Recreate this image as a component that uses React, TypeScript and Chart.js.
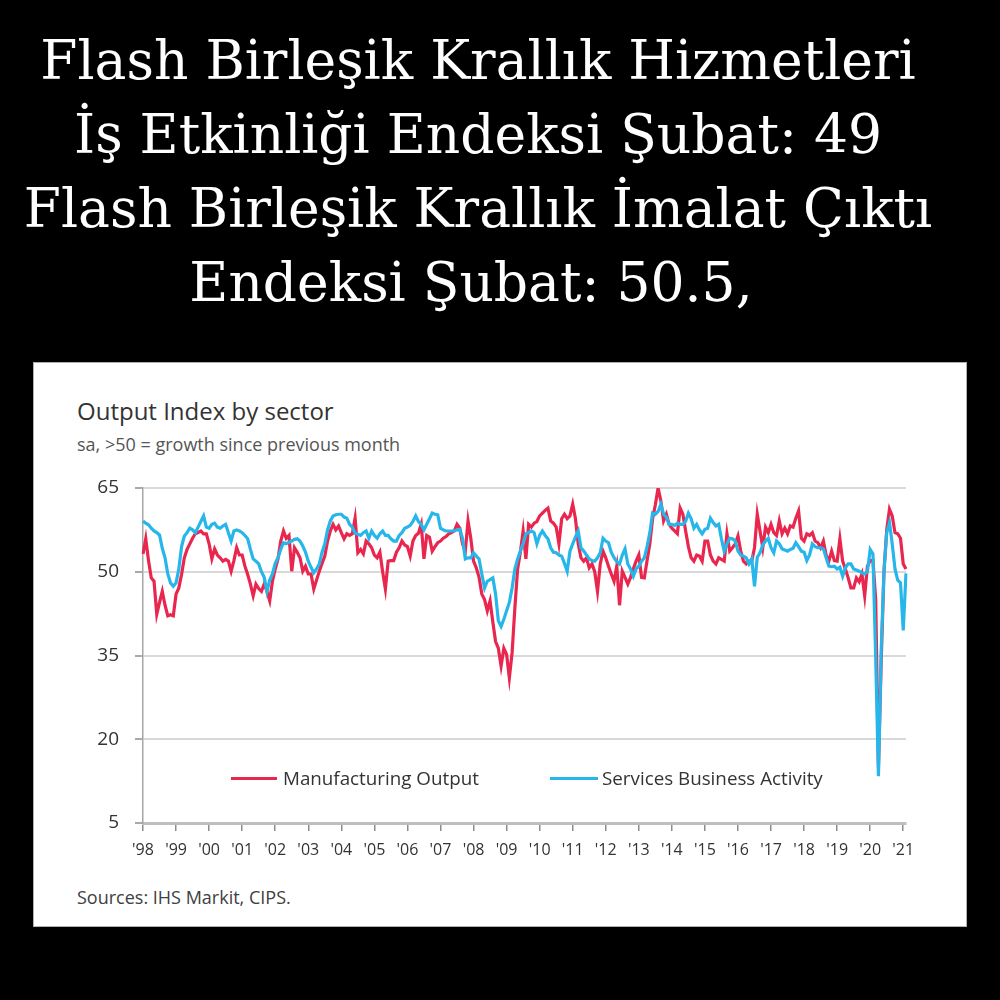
import React, { useEffect, useRef } from "react";
import { Chart, registerables } from "chart.js";

Chart.register(...registerables);

// ---- data ----
const yearLabels = [
  "'98", "'99", "'00", "'01", "'02", "'03", "'04", "'05", "'06", "'07", "'08", "'09",
  "'10", "'11", "'12", "'13", "'14", "'15", "'16", "'17", "'18", "'19", "'20", "'21",
];
const monthsPerYear = 12;
const yTicks = [5, 20, 35, 50, 65];
const seriesNames = ["Manufacturing Output", "Services Business Activity"];

// monthly, Jan 1998 - Feb 2021
const manufacturingOutput = [
  53.2, 55.9, 52.0, 48.9, 48.3, 42.4, 44.5, 46.5, 44.0, 42.1, 42.3, 42.1, // 1998
  46.0, 47.1, 49.5, 52.5, 54.0, 55.0, 56.0, 56.8, 57.0, 57.3, 56.8, 56.8, // 1999
  55.0, 52.3, 54.1, 53.0, 52.5, 51.9, 52.2, 51.9, 50.1, 52.0, 54.3, 53.0, // 2000
  53.0, 51.0, 49.5, 47.8, 45.7, 47.8, 47.0, 46.5, 47.8, 46.5, 44.8, 48.3, // 2001
  50.5, 52.3, 55.5, 57.3, 56.0, 56.5, 50.1, 54.3, 53.5, 52.5, 50.1, 51.0, // 2002
  49.6, 49.6, 46.9, 48.5, 50.1, 51.5, 52.8, 55.5, 57.3, 58.5, 57.5, 58.2, // 2003
  57.0, 55.9, 56.8, 56.5, 56.8, 59.6, 53.4, 54.0, 53.2, 55.5, 55.0, 54.3, // 2004
  53.0, 52.5, 53.5, 50.0, 46.9, 51.9, 52.0, 52.0, 53.5, 54.3, 55.5, 54.8, // 2005
  54.5, 52.8, 55.5, 56.5, 56.9, 58.5, 52.3, 56.5, 56.2, 53.7, 54.5, 55.2, // 2006
  55.5, 56.0, 56.3, 56.8, 57.0, 57.3, 58.5, 57.8, 55.0, 53.7, 59.1, 56.0, // 2007
  51.9, 50.7, 49.0, 46.0, 45.0, 43.0, 44.8, 41.0, 37.5, 36.3, 33.1, 36.3, // 2008
  35.2, 31.0, 35.5, 43.5, 50.5, 53.5, 57.3, 52.3, 58.5, 58.0, 58.7, 59.0, // 2009
  60.0, 60.5, 61.0, 61.4, 59.1, 58.7, 58.0, 55.0, 59.5, 60.3, 59.5, 60.0, // 2010
  62.1, 59.5, 55.0, 52.5, 51.9, 52.5, 50.7, 51.4, 50.0, 46.5, 51.4, 53.7, // 2011
  52.5, 51.0, 49.6, 48.3, 51.0, 44.0, 50.1, 49.0, 47.8, 49.0, 50.5, 51.9, // 2012
  53.0, 49.0, 48.9, 52.0, 55.0, 59.5, 62.0, 65.0, 62.7, 59.1, 60.3, 58.5, // 2013
  57.8, 57.3, 56.8, 61.4, 60.3, 57.3, 54.5, 52.5, 51.9, 53.0, 52.8, 51.9, // 2014
  55.5, 55.5, 53.0, 51.9, 51.4, 52.5, 52.2, 51.9, 56.8, 53.7, 54.3, 55.0, // 2015
  56.4, 53.7, 51.9, 51.4, 51.9, 51.9, 54.3, 60.3, 57.3, 54.3, 58.0, 57.0, // 2016
  58.5, 57.0, 56.5, 59.1, 56.8, 57.8, 56.8, 58.2, 58.0, 59.6, 60.9, 56.0, // 2017
  55.5, 56.8, 56.5, 57.0, 55.5, 55.2, 54.3, 55.5, 53.0, 51.9, 53.7, 52.0, // 2018
  51.9, 55.9, 51.9, 50.5, 48.9, 47.1, 47.1, 48.9, 48.2, 49.6, 45.7, 51.0, // 2019
  52.0, 52.0, 45.0, 15.0, 34.0, 50.0, 57.5, 61.2, 60.0, 57.0, 56.8, 56.0, // 2020
  51.4, 50.5, // 2021
];

const servicesActivity = [
  59.1, 58.7, 58.4, 57.8, 57.3, 57.0, 56.6, 54.2, 52.5, 49.6, 48.0, 47.4, // 1998
  48.0, 50.5, 54.5, 56.4, 57.0, 57.8, 57.5, 57.0, 58.0, 59.0, 60.0, 58.0, // 1999
  57.8, 58.5, 58.7, 58.0, 57.8, 58.2, 58.5, 57.0, 55.5, 57.3, 57.5, 57.3, // 2000
  57.0, 56.5, 55.9, 54.0, 52.3, 51.9, 51.4, 50.0, 49.0, 46.5, 48.5, 49.6, // 2001
  51.5, 52.5, 54.0, 55.2, 55.0, 55.3, 55.5, 55.8, 55.9, 55.5, 54.6, 53.5, // 2002
  51.9, 50.8, 49.8, 50.5, 51.4, 53.5, 55.0, 57.5, 59.1, 60.0, 60.2, 60.3, // 2003
  60.3, 59.8, 59.6, 58.5, 58.0, 56.9, 56.7, 56.5, 57.0, 57.3, 56.0, 57.3, // 2004
  56.5, 56.0, 56.8, 57.3, 56.5, 56.5, 55.9, 55.5, 55.5, 56.5, 57.0, 57.8, // 2005
  58.0, 58.3, 59.0, 60.0, 59.0, 58.5, 57.5, 58.5, 59.5, 60.5, 60.3, 60.2, // 2006
  57.8, 57.5, 57.3, 57.3, 57.3, 57.3, 57.5, 57.6, 56.0, 52.3, 52.5, 52.5, // 2007
  53.4, 52.8, 52.3, 49.6, 47.1, 48.3, 48.6, 48.9, 46.0, 41.2, 40.2, 41.5, // 2008
  43.0, 44.5, 47.1, 50.5, 52.3, 53.7, 55.0, 56.8, 57.0, 57.3, 57.0, 55.0, // 2009
  56.5, 57.3, 56.5, 55.9, 54.3, 53.5, 53.4, 53.0, 52.8, 51.5, 50.1, 53.7, // 2010
  55.0, 56.2, 57.3, 54.3, 53.7, 53.0, 52.3, 52.0, 51.9, 52.5, 53.4, 56.0, // 2011
  55.5, 55.2, 53.5, 52.5, 51.8, 51.4, 53.0, 54.1, 51.4, 50.5, 49.2, 50.5, // 2012
  51.0, 51.9, 52.5, 54.5, 57.0, 60.5, 60.3, 60.8, 62.1, 60.3, 59.8, 58.5, // 2013
  58.5, 58.3, 58.7, 58.5, 58.5, 59.0, 60.5, 59.5, 57.8, 58.5, 57.5, 56.8, // 2014
  57.6, 57.8, 59.6, 58.8, 58.2, 58.5, 55.9, 53.7, 55.0, 56.0, 55.9, 55.5, // 2015
  53.7, 53.0, 52.8, 52.5, 51.4, 52.3, 47.4, 52.6, 53.4, 54.8, 55.5, 56.0, // 2016
  54.3, 53.4, 55.5, 55.0, 54.1, 53.9, 53.7, 54.0, 54.2, 55.2, 54.5, 53.7, // 2017
  53.5, 52.0, 53.0, 55.0, 54.5, 54.3, 54.3, 54.1, 52.5, 51.0, 50.9, 51.0, // 2018
  50.5, 50.8, 49.2, 50.7, 51.4, 51.4, 50.5, 50.3, 50.1, 49.8, 49.6, 50.0, // 2019
  54.0, 53.2, 34.5, 13.4, 36.0, 50.0, 57.0, 58.8, 55.0, 50.5, 48.5, 48.0, // 2020
  39.5, 49.7, // 2021
];

const monthLabels: string[] = yearLabels
  .flatMap((y) => Array.from({ length: monthsPerYear }, (_, m) => `${y}-${m + 1}`))
  .slice(0, servicesActivity.length);

const RED = "#E8264E";
const BLUE = "#27B6EA";
const SANS = "'Open Sans', Lato, sans-serif";

export default function App() {
  const canvasRef = useRef<HTMLCanvasElement | null>(null);

  useEffect(() => {
    const canvas = canvasRef.current;
    if (!canvas) return;
    const chart = new Chart(canvas, {
      type: "line",
      data: {
        labels: monthLabels,
        datasets: [
          {
            label: seriesNames[0],
            data: manufacturingOutput,
            borderColor: RED,
            backgroundColor: RED,
            borderWidth: 3.2,
            pointRadius: 0,
            tension: 0,
            order: 1,
          },
          {
            label: seriesNames[1],
            data: servicesActivity,
            borderColor: BLUE,
            backgroundColor: BLUE,
            borderWidth: 3.2,
            pointRadius: 0,
            tension: 0,
            order: 0,
          },
        ],
      },
      options: {
        animation: false,
        responsive: false,
        devicePixelRatio: 1,
        layout: { padding: { top: 17, right: 25, left: 0, bottom: 0 } },
        plugins: { legend: { display: false }, tooltip: { enabled: false } },
        scales: {
          x: {
            type: "category",
            offset: false,
            afterFit: (scale: any) => {
              scale.height = 48;
              scale.paddingLeft = 0;
              scale.paddingRight = 0;
            },
            grid: {
              drawOnChartArea: false,
              drawTicks: true,
              tickLength: 8,
              color: "#8c8c8c",
              lineWidth: 1.5,
            },
            border: { color: "#bfbfbf", width: 3 },
            ticks: {
              autoSkip: false,
              maxRotation: 0,
              minRotation: 0,
              padding: 10,
              color: "#333333",
              font: { family: SANS, size: 16 },
              callback: (_v: any, i: number) =>
                i % monthsPerYear === 0 ? yearLabels[i / monthsPerYear] : null,
            },
          },
          y: {
            min: yTicks[0],
            max: yTicks[yTicks.length - 1],
            afterFit: (scale: any) => {
              scale.width = 62;
              scale.paddingTop = 0;
              scale.paddingBottom = 0;
            },
            afterBuildTicks: (scale: any) => {
              scale.ticks = yTicks.map((v) => ({ value: v }));
            },
            grid: {
              color: "#d9d9d9",
              lineWidth: 2,
              tickColor: "#8c8c8c",
              tickLength: 8,
              tickWidth: 1.5,
            },
            border: { color: "#a6a6a6", width: 1.5 },
            ticks: {
              padding: 16,
              color: "#333333",
              font: { family: SANS, size: 19 },
            },
          },
        },
      },
    });
    return () => chart.destroy();
  }, []);

  const legendItem = (left: number, lineW: number, gap: number, color: string, text: string) => (
    <div
      style={{
        position: "absolute",
        left,
        top: 403,
        height: 24,
        display: "flex",
        alignItems: "center",
        font: `18.8px ${SANS}`,
        color: "#333333",
        whiteSpace: "nowrap",
      }}
    >
      <span
        style={{
          display: "inline-block",
          width: lineW,
          height: 3,
          background: color,
          marginRight: gap,
        }}
      />
      {text}
    </div>
  );

  return (
    <div
      style={{
        position: "absolute",
        left: 0,
        top: 0,
        width: 1000,
        height: 1000,
        background: "#000000",
        overflow: "hidden",
      }}
    >
      <div
        style={{
          position: "absolute",
          left: 0,
          top: 24,
          width: 956,
          textAlign: "center",
          color: "#ffffff",
          fontFamily: "'DejaVu Serif', serif",
          fontSize: 53.5,
          lineHeight: "74px",
          whiteSpace: "nowrap",
        }}
      >
        <div>Flash Birleşik Krallık Hizmetleri</div>
        <div>İş Etkinliği Endeksi Şubat: 49</div>
        <div>Flash Birleşik Krallık İmalat Çıktı</div>
        <div style={{ paddingRight: 14 }}>Endeksi Şubat: 50.5,</div>
      </div>

      <div
        style={{
          position: "absolute",
          left: 33,
          top: 362,
          width: 934,
          height: 565,
          background: "#ffffff",
          boxSizing: "border-box",
          border: "1px solid #b0b0b0",
        }}
      >
        <div
          style={{
            position: "absolute",
            left: 43,
            top: 34,
            font: `24px ${SANS}`,
            lineHeight: "28px",
            color: "#333333",
            whiteSpace: "nowrap",
          }}
        >
          Output Index by sector
        </div>
        <div
          style={{
            position: "absolute",
            left: 43,
            top: 70,
            font: `18px ${SANS}`,
            lineHeight: "22px",
            color: "#555555",
            whiteSpace: "nowrap",
          }}
        >
          sa, &gt;50 = growth since previous month
        </div>
        <canvas
          ref={canvasRef}
          width={850}
          height={400}
          style={{ position: "absolute", left: 47, top: 108, width: 850, height: 400 }}
        />
        {legendItem(197, 46, 6, RED, seriesNames[0])}
        {legendItem(516, 48, 4, BLUE, seriesNames[1])}
        <div
          style={{
            position: "absolute",
            left: 43,
            top: 523,
            font: `18px ${SANS}`,
            lineHeight: "22px",
            color: "#404040",
            whiteSpace: "nowrap",
          }}
        >
          Sources: IHS Markit, CIPS.
        </div>
      </div>
    </div>
  );
}
